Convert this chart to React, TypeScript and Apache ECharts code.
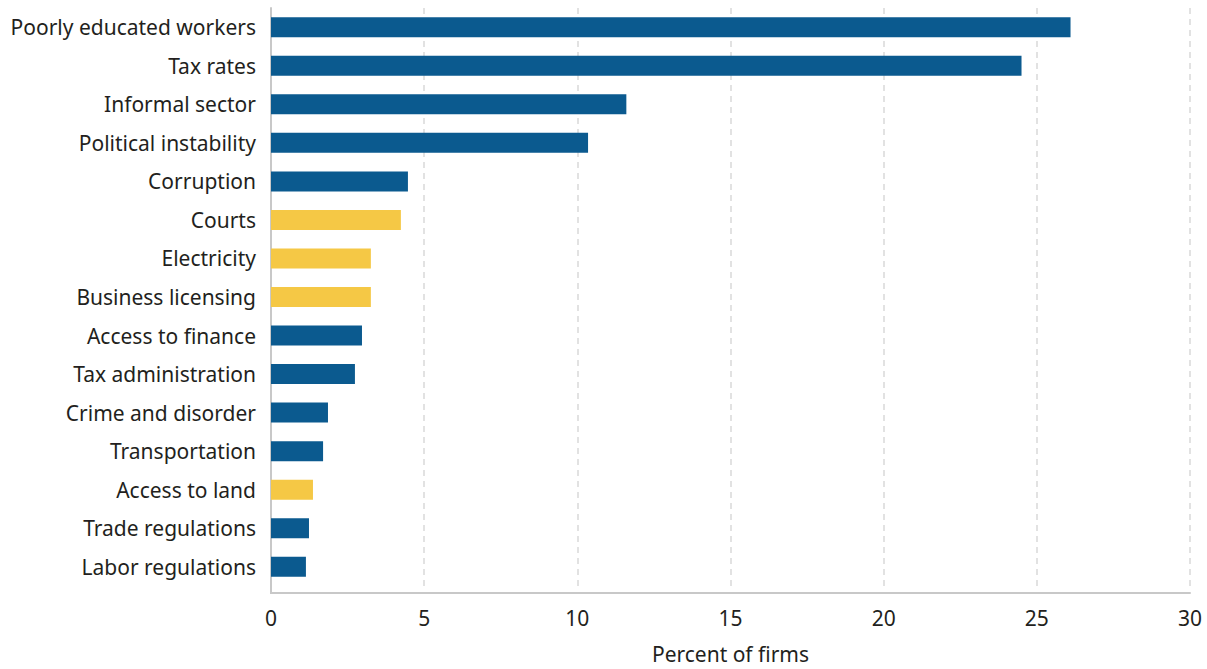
import React, { useEffect, useRef } from "react";
import * as echarts from "echarts";

const categories = [
  "Poorly educated workers",
  "Tax rates",
  "Informal sector",
  "Political instability",
  "Corruption",
  "Courts",
  "Electricity",
  "Business licensing",
  "Access to finance",
  "Tax administration",
  "Crime and disorder",
  "Transportation",
  "Access to land",
  "Trade regulations",
  "Labor regulations",
];
const values = [26.1, 24.5, 11.6, 10.35, 4.47, 4.24, 3.26, 3.26, 2.97, 2.74, 1.86, 1.7, 1.37, 1.24, 1.14];
const highlighted = [false, false, false, false, false, true, true, true, false, false, false, false, true, false, false];
const xTicks = { min: 0, max: 30, interval: 5 };
const axisName = "Percent of firms";

const BLUE = "#0b5a8f";
const YELLOW = "#f5c845";
const TEXT = "#231f20";
const FONT = "'Noto Sans', 'Open Sans', sans-serif";

export default function App() {
  const ref = useRef<HTMLDivElement>(null);
  useEffect(() => {
    if (!ref.current) return;
    const chart = echarts.init(ref.current, null, { renderer: "svg" });
    chart.setOption({
      animation: false,
      grid: {
        left: 271,
        width: 919,
        top: 8,
        height: 578,
        containLabel: false,
        outerBoundsMode: "none",
      },
      xAxis: {
        type: "value",
        min: xTicks.min,
        max: xTicks.max,
        interval: xTicks.interval,
        offset: 7,
        name: axisName,
        nameLocation: "middle",
        nameGap: 50,
        nameTextStyle: { color: TEXT, fontSize: 21, lineHeight: 21, fontFamily: FONT },
        axisLine: { show: true, lineStyle: { color: "#c8c8c8", width: 2 } },
        axisTick: { show: false },
        axisLabel: { color: TEXT, fontSize: 21, fontFamily: FONT, margin: 14 },
        splitLine: { show: true, lineStyle: { color: "#d9d9d9", type: [6, 5], width: 1.5 } },
      },
      yAxis: {
        type: "category",
        inverse: true,
        data: categories,
        axisLine: { show: true, lineStyle: { color: "#c8c8c8", width: 2 } },
        axisTick: { show: false },
        axisLabel: { color: TEXT, fontSize: 21, fontFamily: FONT, margin: 15 },
        splitLine: { show: false },
      },
      graphic: [
        {
          type: "line",
          shape: { x1: 271, y1: 585, x2: 271, y2: 594 },
          style: { stroke: "#c8c8c8", lineWidth: 2 },
          silent: true,
        },
      ],
      series: [
        {
          type: "bar",
          barWidth: 20,
          data: values.map((v, i) => ({
            value: v,
            itemStyle: { color: highlighted[i] ? YELLOW : BLUE },
          })),
        },
      ],
    });
    return () => chart.dispose();
  }, []);
  return (
    <div
      ref={ref}
      style={{ position: "fixed", left: 0, top: 0, width: 1207, height: 669, background: "#fff" }}
    />
  );
}
